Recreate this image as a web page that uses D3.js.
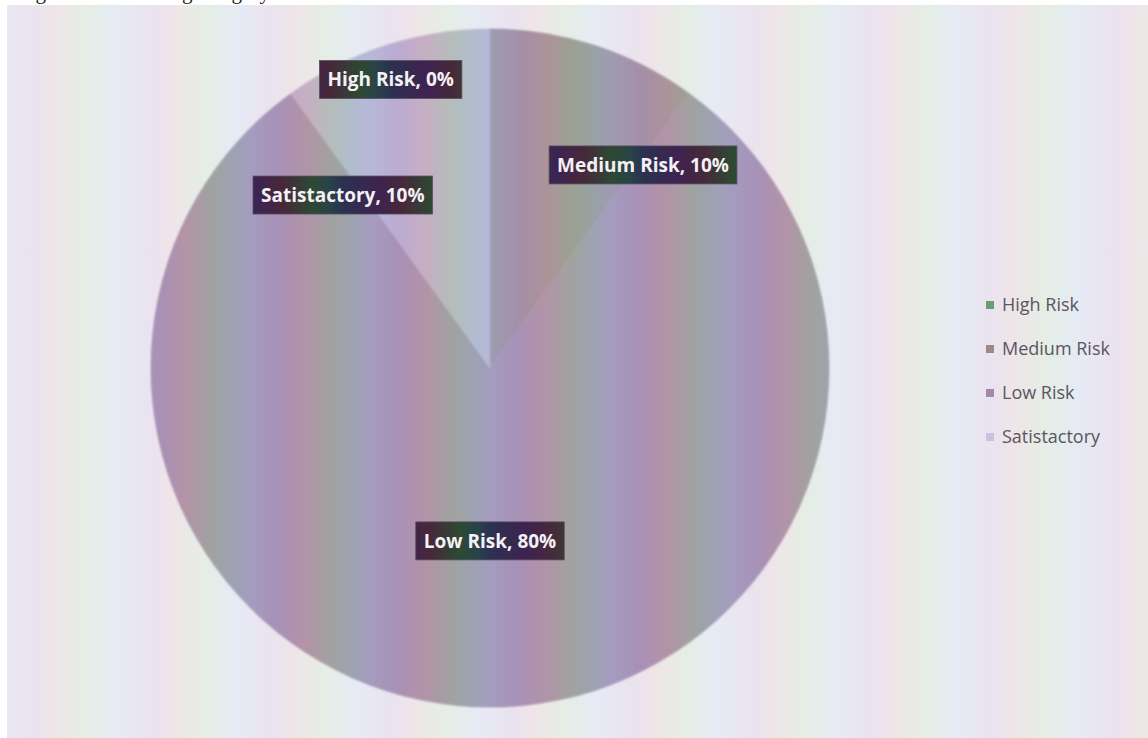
<!DOCTYPE html>
<html>
<head>
<meta charset="utf-8">
<script src="https://cdn.jsdelivr.net/npm/d3@7"></script>
<style>
  html, body { margin: 0; padding: 0; background: #fff; }
  svg { display: block; }
</style>
</head>
<body>
<svg width="1148" height="738"></svg>
<script>
// chart values
var categories = ["High Risk", "Medium Risk", "Low Risk", "Satistactory"];
var shares = [0, 10, 80, 10];
var captionText = "Figure 4: Risk rating category wise";

(function (window) {

  var chart = {
    draw: function () {
      helper.defs();
      helper.background();
      helper.pie();
      helper.legend();
    }
  };

  var helper = {
    svg: d3.select("svg"),
    width: 1148,
    height: 738,
    cx: 490,
    cy: 368,
    r: 339,

    // base slice tones (the scan tints them with stripes on top)
    color: d3.scaleOrdinal()
      .domain(categories)
      .range(["#6f9a76", "#9a8a8e", "#a48ca8", "#cbc2de"]),

    // where excel's "best fit" dropped each label: [radius share, angle deg]
    labelAt: {
      "High Risk": [0.90, -19],
      "Medium Risk": [0.75, 37],
      "Low Risk": [0.51, 180],
      "Satistactory": [0.67, -40.4]
    },

    stripes: function (id, stops) {
      var g = this.svg.select("defs").append("linearGradient")
        .attr("id", id)
        .attr("gradientUnits", "userSpaceOnUse")
        .attr("x1", 0).attr("y1", 0)
        .attr("x2", 120).attr("y2", 0)
        .attr("spreadMethod", "repeat");
      g.selectAll("stop")
        .data(stops)
        .enter().append("stop")
          .attr("offset", function (d) { return d[0]; })
          .attr("stop-color", function (d) { return d[1]; });
    },

    defs: function () {
      this.svg.append("defs");
      this.stripes("rainbow", [
        [0, "#a3add6"], [0.25, "#ad94c4"], [0.45, "#c29aa8"],
        [0.7, "#9cbb98"], [0.85, "#98b8bc"], [1, "#a3add6"]
      ]);
      this.stripes("rainbowDark", [
        [0, "#2c3150"], [0.3, "#3e2350"], [0.5, "#47283a"],
        [0.75, "#2c4a33"], [0.9, "#28424a"], [1, "#2c3150"]
      ]);
      this.svg.select("defs").append("filter")
        .attr("id", "soft")
        .append("feGaussianBlur").attr("stdDeviation", 1.2);
    },

    background: function () {
      var svg = this.svg;
      svg.append("rect")
        .attr("x", 7).attr("y", 5)
        .attr("width", this.width - 7).attr("height", this.height - 5)
        .attr("fill", "url(#rainbow)")
        .attr("opacity", 0.26);

      // caption above the chart, almost cut off by the crop
      svg.append("text")
        .attr("x", 18).attr("y", -1)
        .attr("font-family", "'Liberation Serif', serif")
        .attr("font-size", 21)
        .attr("fill", "#222")
        .text(captionText);
    },

    pie: function () {
      var self = this,
          data = categories.map(function (c, i) { return { name: c, value: shares[i] }; });

      var pie = d3.pie()
        .sort(null)
        .value(function (d) { return d.value; });

      var arc = d3.arc()
        .innerRadius(0)
        .outerRadius(this.r);

      var arcs = pie(data);

      var g = this.svg.append("g")
        .attr("class", "pie")
        .attr("transform", "translate(" + this.cx + "," + this.cy + ")");

      g.append("g")
        .attr("filter", "url(#soft)")
        .selectAll("path")
        .data(arcs)
        .enter().append("path")
          .attr("d", arc)
          .attr("fill", function (d) { return self.color(d.data.name); });

      // moire stripes from the scan, lined up with the page
      g.append("g")
        .attr("filter", "url(#soft)")
        .selectAll("path")
        .data(arcs)
        .enter().append("path")
          .attr("d", arc)
          .attr("fill", "url(#rainbow)")
          .attr("opacity", 0.5);

      var labels = g.append("g")
        .attr("class", "labels")
        .selectAll("g")
        .data(arcs)
        .enter().append("g")
          .attr("transform", function (d) {
            var p = self.labelAt[d.data.name],
                a = p[1] * Math.PI / 180,
                rr = p[0] * self.r;
            return "translate(" + (rr * Math.sin(a)) + "," + (-rr * Math.cos(a)) + ")";
          });

      var txt = labels.append("text")
        .attr("text-anchor", "middle")
        .attr("dy", "0.35em")
        .attr("font-family", "'Open Sans', sans-serif")
        .attr("font-weight", "bold")
        .attr("font-size", 19)
        .attr("fill", "#f4f0f4")
        .text(function (d) { return d.data.name + ", " + d.data.value + "%"; });

      txt.each(function () {
        var b = this.getBBox();
        d3.select(this.parentNode).insert("rect", "text")
          .attr("x", b.x - 8).attr("y", -19)
          .attr("width", b.width + 16).attr("height", 38)
          .attr("fill", "url(#rainbowDark)")
          .attr("stroke", "#5a5060")
          .attr("stroke-width", 0.8);
      });
    },

    legend: function () {
      var self = this;
      var y = d3.scalePoint()
        .domain(categories)
        .range([305, 437]);

      var item = this.svg.append("g")
        .attr("class", "legend")
        .selectAll("g")
        .data(categories)
        .enter().append("g")
          .attr("transform", function (d) { return "translate(986," + y(d) + ")"; });

      item.append("rect")
        .attr("x", 0).attr("y", -4)
        .attr("width", 8).attr("height", 8)
        .attr("fill", function (d) { return self.color(d); });

      item.append("text")
        .attr("x", 16)
        .attr("dy", "0.35em")
        .attr("font-family", "'Open Sans', sans-serif")
        .attr("font-size", 18)
        .attr("fill", "#5a5560")
        .text(function (d) { return d; });
    }
  };

  window.chart = chart;

})(window);

chart.draw();
</script>
</body>
</html>
